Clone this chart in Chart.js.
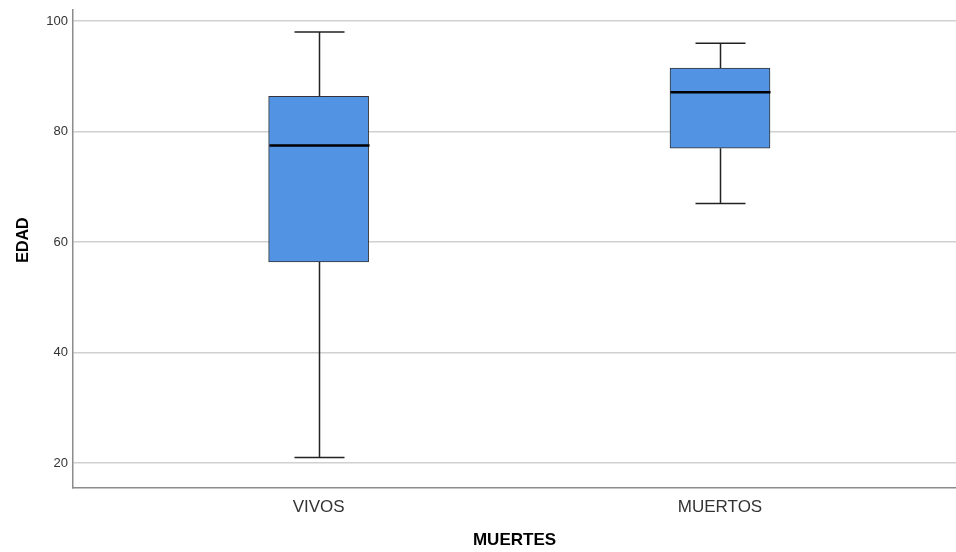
<!DOCTYPE html>
<html>
<head>
<meta charset="utf-8">
<script src="https://cdn.jsdelivr.net/npm/chart.js@4/dist/chart.umd.min.js"></script>
<style>
  html, body { margin: 0; padding: 0; background: #fff; }
  #wrap { width: 956px; height: 552px; position: relative; }
</style>
</head>
<body>
<div id="wrap"><canvas id="boxChart"></canvas></div>
<script>
// --- DATA ---
const categories = ['VIVOS', 'MUERTOS'];
const whiskerLow = [21, 67];
const quartile1 = [56.4, 77];
const medians = [77.5, 87.1];
const quartile3 = [86.4, 91.5];
const whiskerHigh = [98, 96];
const yTicks = [20, 40, 60, 80, 100];

const boxColor = '#5294e3';
const lineColor = '#222222';

// boxes as floating bars, whiskers + medians drawn on top from the same scales
const boxData = categories.map((c, i) => ({ x: i + 1, y: [quartile1[i], quartile3[i]] }));

const whiskerPlugin = {
    id: 'whiskers',
    afterDatasetsDraw(chart) {
        const ctx = chart.ctx;
        const xs = chart.scales.x;
        const ys = chart.scales.y;
        ctx.save();
        categories.forEach((c, i) => {
            const cx = Math.round(xs.getPixelForValue(i + 1)) + 0.5;
            const half = 50;
            const capHalf = 25;

            ctx.strokeStyle = lineColor;
            ctx.lineWidth = 1.5;
            ctx.beginPath();
            // upper whisker + cap
            ctx.moveTo(cx, ys.getPixelForValue(quartile3[i]));
            ctx.lineTo(cx, ys.getPixelForValue(whiskerHigh[i]));
            ctx.moveTo(cx - capHalf, ys.getPixelForValue(whiskerHigh[i]));
            ctx.lineTo(cx + capHalf, ys.getPixelForValue(whiskerHigh[i]));
            // lower whisker + cap
            ctx.moveTo(cx, ys.getPixelForValue(quartile1[i]));
            ctx.lineTo(cx, ys.getPixelForValue(whiskerLow[i]));
            ctx.moveTo(cx - capHalf, ys.getPixelForValue(whiskerLow[i]));
            ctx.lineTo(cx + capHalf, ys.getPixelForValue(whiskerLow[i]));
            ctx.stroke();

            // median
            ctx.strokeStyle = '#000';
            ctx.lineWidth = 2.5;
            ctx.beginPath();
            ctx.moveTo(cx - half, ys.getPixelForValue(medians[i]));
            ctx.lineTo(cx + half, ys.getPixelForValue(medians[i]));
            ctx.stroke();
        });
        ctx.restore();
    }
};

document.addEventListener('DOMContentLoaded', () => {
    const ctx = document.getElementById('boxChart').getContext('2d');
    new Chart(ctx, {
        type: 'bar',
        data: {
            datasets: [{
                data: boxData,
                backgroundColor: boxColor,
                borderColor: '#333333',
                borderWidth: 1,
                borderSkipped: false,
                barThickness: 100
            }]
        },
        options: {
            responsive: true,
            maintainAspectRatio: false,
            animation: false,
            layout: { padding: { top: 10, right: 0, bottom: 0, left: 0 } },
            plugins: {
                legend: { display: false },
                tooltip: { enabled: false }
            },
            scales: {
                x: {
                    type: 'linear',
                    offset: false,
                    bounds: 'ticks',
                    min: 0.388,
                    max: 2.588,
                    afterBuildTicks: axis => { axis.ticks = categories.map((c, i) => ({ value: i + 1 })); },
                    afterFit: axis => { axis.height = 64; },
                    grid: { display: false, drawTicks: false },
                    border: { display: true, color: '#8c8c8c', width: 1.5 },
                    ticks: {
                        padding: 9,
                        color: '#333',
                        font: { family: 'Liberation Sans, Arial, sans-serif', size: 17 },
                        callback: v => categories[v - 1] || ''
                    },
                    title: {
                        display: true,
                        text: 'MUERTES',
                        color: '#000',
                        font: { family: 'Liberation Sans, Arial, sans-serif', size: 17, weight: 'bold' },
                        padding: { top: 0, bottom: 1 }
                    }
                },
                y: {
                    min: 15.5,
                    max: 102,
                    afterBuildTicks: axis => { axis.ticks = yTicks.map(v => ({ value: v })); },
                    afterFit: axis => {
                        axis.width = 73;
                        axis.paddingTop = 0;
                        axis.paddingBottom = 0;
                    },
                    grid: { color: '#d0d0d0', lineWidth: 1.5, drawTicks: false },
                    border: { display: true, color: '#8c8c8c', width: 1.5 },
                    ticks: {
                        padding: 5,
                        color: '#333',
                        font: { family: 'Liberation Sans, Arial, sans-serif', size: 13 }
                    },
                    title: {
                        display: true,
                        // leading spaces nudge the rotated title up a little, like SPSS
                        text: '    EDAD',
                        color: '#000',
                        font: { family: 'Liberation Sans, Arial, sans-serif', size: 16, weight: 'bold' },
                        padding: { top: 14, bottom: 0 }
                    }
                }
            }
        },
        plugins: [whiskerPlugin]
    });
});
</script>
</body>
</html>
